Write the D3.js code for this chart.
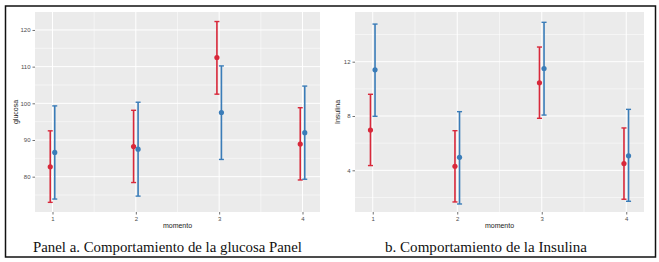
<!DOCTYPE html>
<html>
<head>
<meta charset="utf-8">
<script src="https://cdn.jsdelivr.net/npm/d3@7"></script>
<style>
  body { margin: 0; background: #fff; }
  svg { display: block; }
  .tick text { font-family: "Liberation Sans", Arial, sans-serif; font-size: 6px; fill: #4d4d4d; }
  .titulo { font-family: "Liberation Sans", Arial, sans-serif; font-size: 7px; fill: #1a1a1a; }
  .leyenda { font-family: "Liberation Serif", "DejaVu Serif", serif; font-size: 14px; fill: #111; }
</style>
</head>
<body>
<svg width="659" height="262"></svg>
<script>
// datos
var momentos = [1, 2, 3, 4];

var glucosaRojoMedia = [82.7, 88.2, 112.5, 88.9],
    glucosaRojoMin = [73.0, 78.4, 102.5, 79.1],
    glucosaRojoMax = [92.5, 98.1, 122.3, 98.8];
var glucosaAzulMedia = [86.6, 87.5, 97.5, 92.0],
    glucosaAzulMin = [73.9, 74.7, 84.7, 79.3],
    glucosaAzulMax = [99.3, 100.3, 110.2, 104.7];

var insulinaRojoMedia = [6.97, 4.3, 10.45, 4.5],
    insulinaRojoMin = [4.35, 1.67, 7.83, 1.87],
    insulinaRojoMax = [9.6, 6.92, 13.08, 7.12];
var insulinaAzulMedia = [11.4, 4.96, 11.5, 5.07],
    insulinaAzulMin = [7.98, 1.52, 8.07, 1.72],
    insulinaAzulMax = [14.77, 8.32, 14.9, 8.49];

var glucosaTicks = [80, 90, 100, 110, 120],
    insulinaTicks = [4, 8, 12];

var rojo = "#d8283a", azul = "#3a7cb8";

var svg = d3.select("svg");

// marco exterior
svg.append("rect")
    .attr("x", 5.5).attr("y", 6)
    .attr("width", 650).attr("height", 251)
    .attr("fill", "none")
    .attr("stroke", "#111")
    .attr("stroke-width", 1.5);

function panel(opts) {
    var g = svg.append("g")
        .attr("transform", "translate(" + opts.left + "," + opts.top + ")");
    var w = opts.width, h = opts.height;

    var x = d3.scaleLinear().domain([0.79, 4.21]).range([0, w]);
    var y = d3.scaleLinear().domain(opts.yDomain).range([h, 0]);

    g.append("rect")
        .attr("width", w).attr("height", h)
        .attr("fill", "#ebebeb");

    // lineas menores
    var menoresY = [];
    for (var i = 0; i < opts.ticks.length; i++) {
        var paso = opts.ticks[1] - opts.ticks[0];
        menoresY.push(opts.ticks[i] - paso / 2);
        if (i == opts.ticks.length - 1) menoresY.push(opts.ticks[i] + paso / 2);
    }
    menoresY = menoresY.filter(function (v) { return v > opts.yDomain[0] && v < opts.yDomain[1]; });

    g.selectAll(".menorY").data(menoresY).enter().append("line")
        .attr("x1", 0).attr("x2", w)
        .attr("y1", function (d) { return y(d); })
        .attr("y2", function (d) { return y(d); })
        .attr("stroke", "#fff").attr("stroke-width", 0.5);

    g.selectAll(".menorX").data([1.5, 2.5, 3.5]).enter().append("line")
        .attr("y1", 0).attr("y2", h)
        .attr("x1", function (d) { return x(d); })
        .attr("x2", function (d) { return x(d); })
        .attr("stroke", "#fff").attr("stroke-width", 0.5);

    g.selectAll(".mayorY").data(opts.ticks).enter().append("line")
        .attr("x1", 0).attr("x2", w)
        .attr("y1", function (d) { return y(d); })
        .attr("y2", function (d) { return y(d); })
        .attr("stroke", "#fff").attr("stroke-width", 1);

    g.selectAll(".mayorX").data(momentos).enter().append("line")
        .attr("y1", 0).attr("y2", h)
        .attr("x1", function (d) { return x(d); })
        .attr("x2", function (d) { return x(d); })
        .attr("stroke", "#fff").attr("stroke-width", 1);

    // ejes
    var ejeX = g.append("g")
        .attr("transform", "translate(0," + h + ")")
        .call(d3.axisBottom(x).tickValues(momentos).tickFormat(d3.format("d")).tickSize(2.5).tickPadding(2));
    var ejeY = g.append("g")
        .call(d3.axisLeft(y).tickValues(opts.ticks).tickSize(2.5).tickPadding(2));
    [ejeX, ejeY].forEach(function (e) {
        e.select(".domain").remove();
        e.selectAll(".tick line").attr("stroke", "#333").attr("stroke-width", 0.7);
    });

    g.append("text")
        .attr("class", "titulo")
        .attr("x", w / 2).attr("y", h + 16)
        .attr("text-anchor", "middle")
        .text("momento");

    g.append("text")
        .attr("class", "titulo")
        .attr("transform", "translate(" + opts.yTitleX + "," + (h / 2) + ") rotate(-90)")
        .attr("text-anchor", "middle")
        .text(opts.yTitle);

    // barras de error
    var dodge = 0.027, cap = 0.03;
    opts.series.forEach(function (s) {
        var datos = momentos.map(function (m, i) {
            return { m: m + s.dx * dodge, media: s.media[i], min: s.min[i], max: s.max[i] };
        });
        var sg = g.append("g");
        sg.selectAll(".barra").data(datos).enter().append("line")
            .attr("x1", function (d) { return x(d.m); })
            .attr("x2", function (d) { return x(d.m); })
            .attr("y1", function (d) { return y(d.min); })
            .attr("y2", function (d) { return y(d.max); })
            .attr("stroke", s.color).attr("stroke-width", 1.6);
        ["min", "max"].forEach(function (k) {
            sg.selectAll(".cap" + k).data(datos).enter().append("line")
                .attr("x1", function (d) { return x(d.m - cap); })
                .attr("x2", function (d) { return x(d.m + cap); })
                .attr("y1", function (d) { return y(d[k]); })
                .attr("y2", function (d) { return y(d[k]); })
                .attr("stroke", s.color).attr("stroke-width", 1.4);
        });
        sg.selectAll(".punto").data(datos).enter().append("circle")
            .attr("cx", function (d) { return x(d.m); })
            .attr("cy", function (d) { return y(d.media); })
            .attr("r", 2.6)
            .attr("fill", s.color);
    });

    svg.append("text")
        .attr("class", "leyenda")
        .attr("x", opts.capX).attr("y", 252)
        .attr("text-anchor", "middle")
        .attr("textLength", opts.capW)
        .attr("lengthAdjust", "spacingAndGlyphs")
        .text(opts.caption);
}

panel({
    left: 35, top: 12, width: 285, height: 200,
    yDomain: [70.37, 124.9],
    ticks: glucosaTicks,
    yTitle: "glucosa", yTitleX: -17,
    series: [
        { color: rojo, dx: -1, media: glucosaRojoMedia, min: glucosaRojoMin, max: glucosaRojoMax },
        { color: azul, dx: 1, media: glucosaAzulMedia, min: glucosaAzulMin, max: glucosaAzulMax }
    ],
    caption: "Panel a. Comportamiento de la glucosa Panel",
    capX: 167.5, capW: 269
});

panel({
    left: 355, top: 12, width: 289, height: 200,
    yDomain: [0.93, 15.66],
    ticks: insulinaTicks,
    yTitle: "Insulina", yTitleX: -15,
    series: [
        { color: rojo, dx: -1, media: insulinaRojoMedia, min: insulinaRojoMin, max: insulinaRojoMax },
        { color: azul, dx: 1, media: insulinaAzulMedia, min: insulinaAzulMin, max: insulinaAzulMax }
    ],
    caption: "b. Comportamiento de la Insulina",
    capX: 486, capW: 202
});
</script>
</body>
</html>
